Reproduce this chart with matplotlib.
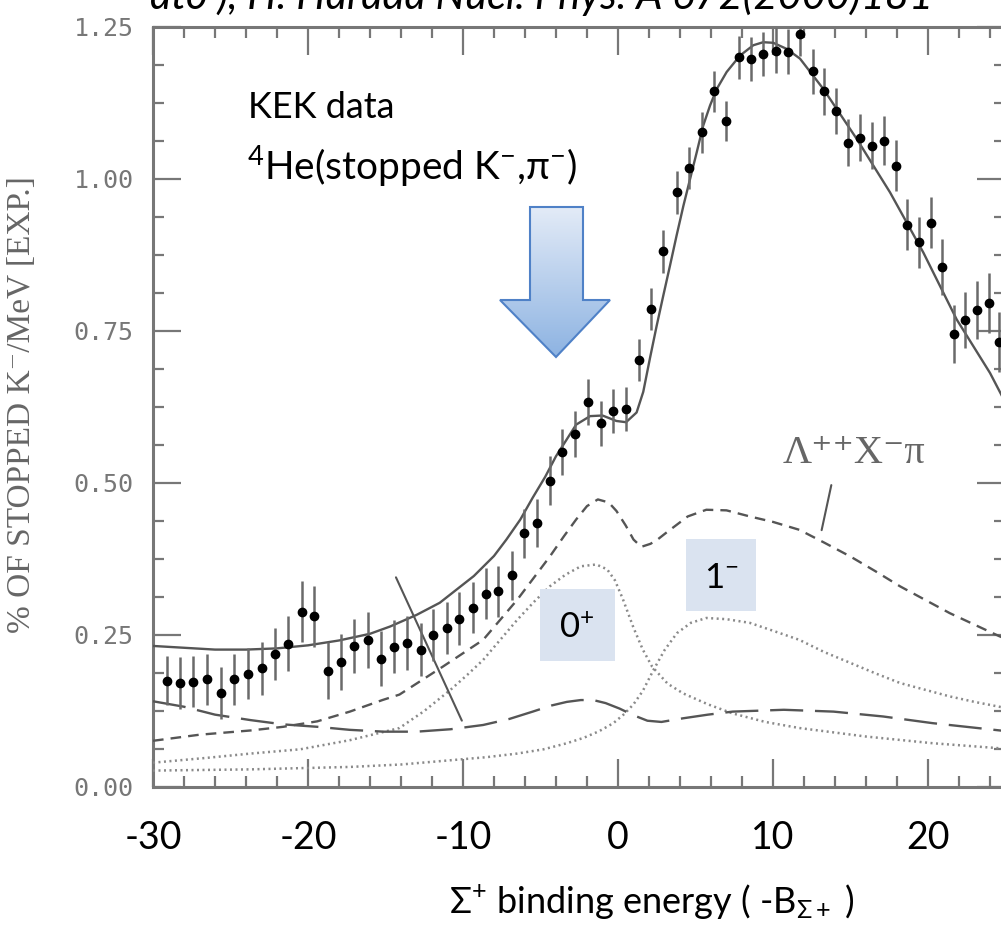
import numpy as np
import matplotlib.pyplot as plt
from matplotlib.patches import Polygon, Rectangle
from matplotlib.ticker import MultipleLocator

plt.rcParams['mathtext.fontset'] = 'custom'
plt.rcParams['mathtext.rm'] = 'Lato'
plt.rcParams['mathtext.it'] = 'Lato:italic'
plt.rcParams['mathtext.bf'] = 'Lato:bold'
plt.rcParams['mathtext.fallback'] = 'stixsans'

# KEK data, 4He(stopped K-, pi-)
data_x = [-29.12, -28.26, -27.40, -26.50, -25.63, -24.75, -23.88, -22.98, -22.13, -21.31,
          -20.41, -19.59, -18.69, -17.87, -17.01, -16.15, -15.29, -14.43, -13.59, -12.73,
          -11.92, -11.05, -10.24, -9.37, -8.52, -7.76, -6.86, -6.05, -5.25, -4.39,
          -3.59, -2.77, -1.92, -1.12, -0.30, 0.52, 1.35, 2.13, 2.92, 3.79,
          4.58, 5.40, 6.19, 6.97, 7.81, 8.58, 9.37, 10.17, 10.99, 11.77,
          12.56, 13.31, 14.06, 14.84, 15.61, 16.37, 17.16, 17.94, 18.66, 19.42,
          20.19, 20.92, 21.68, 22.39, 23.16, 23.92, 24.60]
data_y = [0.175, 0.171, 0.173, 0.177, 0.155, 0.177, 0.186, 0.195, 0.219, 0.236,
          0.288, 0.281, 0.191, 0.206, 0.232, 0.242, 0.211, 0.231, 0.237, 0.226,
          0.250, 0.261, 0.277, 0.295, 0.318, 0.322, 0.348, 0.417, 0.434, 0.504,
          0.551, 0.581, 0.633, 0.598, 0.618, 0.622, 0.702, 0.786, 0.881, 0.978,
          1.018, 1.077, 1.144, 1.096, 1.200, 1.197, 1.206, 1.211, 1.209, 1.239,
          1.177, 1.144, 1.112, 1.060, 1.068, 1.055, 1.063, 1.022, 0.925, 0.896,
          0.928, 0.855, 0.745, 0.768, 0.785, 0.796, 0.732]
data_err = [0.040, 0.042, 0.042, 0.042, 0.043, 0.042, 0.042, 0.043, 0.043, 0.046,
            0.050, 0.050, 0.047, 0.046, 0.045, 0.046, 0.045, 0.044, 0.044, 0.044,
            0.043, 0.043, 0.043, 0.042, 0.042, 0.042, 0.040, 0.040, 0.040, 0.040,
            0.038, 0.038, 0.038, 0.037, 0.036, 0.036, 0.035, 0.035, 0.035, 0.035,
            0.034, 0.034, 0.033, 0.033, 0.036, 0.036, 0.036, 0.037, 0.037, 0.037,
            0.037, 0.038, 0.038, 0.038, 0.039, 0.039, 0.040, 0.042, 0.042, 0.042,
            0.042, 0.046, 0.047, 0.046, 0.048, 0.049, 0.050]

# total spectrum (solid)
total_x = [-30, -28, -26, -24, -22, -20, -18, -16, -14.7, -13, -11.5, -10, -9.3, -8, -7.2,
           -6.3, -5.5, -4.7, -4.0, -3.3, -2.7, -1.8, -1.0, -0.1, 0.52, 1.2, 1.63, 2.06,
           2.49, 2.92, 3.35, 3.78, 4.22, 4.65, 5.08, 5.5, 5.94, 6.37, 7.01, 7.87, 8.73,
           9.37, 10.02, 10.88, 11.74, 13.25, 15.4, 17.55, 19.7, 21.85, 24.0, 25.0]
total_y = [0.232, 0.229, 0.226, 0.226, 0.228, 0.233, 0.241, 0.252, 0.264, 0.283, 0.303,
           0.333, 0.347, 0.380, 0.407, 0.440, 0.476, 0.510, 0.544, 0.572, 0.596, 0.610,
           0.611, 0.602, 0.600, 0.616, 0.650, 0.705, 0.758, 0.808, 0.857, 0.907, 0.956,
           1.000, 1.044, 1.088, 1.121, 1.148, 1.176, 1.203, 1.220, 1.225, 1.224, 1.214,
           1.198, 1.148, 1.066, 0.978, 0.879, 0.769, 0.681, 0.632]

# Lambda++ X- pi (short dashes)
lam_x = [-30, -27, -23.7, -21.6, -19.4, -17.3, -15.2, -14.1, -11.3, -8.7, -6.5, -4.4,
         -3.5, -2.7, -2.0, -1.3, -0.6, -0.1, 0.5, 1.0, 1.5, 2.1, 2.6, 3.1, 4.5, 5.7,
         7.0, 8.5, 10.0, 11.7, 13.3, 15.0, 16.6, 18.2, 19.8, 21.4, 23.0, 24.6, 25.0]
lam_y = [0.076, 0.086, 0.093, 0.099, 0.108, 0.124, 0.143, 0.152, 0.198, 0.242, 0.308,
         0.379, 0.412, 0.440, 0.462, 0.473, 0.468, 0.454, 0.430, 0.407, 0.395, 0.400,
         0.408, 0.418, 0.445, 0.456, 0.455, 0.445, 0.436, 0.423, 0.402, 0.379, 0.355,
         0.330, 0.308, 0.286, 0.267, 0.248, 0.244]

# 0+ state (dotted)
s0_x = [-30, -26.5, -23.7, -20.5, -17.3, -14.1, -12.5, -10.8, -9.7, -8.7, -7.6, -6.5,
        -5.4, -4.4, -3.4, -2.4, -1.4, -0.7, -0.2, 0.3, 1.0, 1.6, 2.2, 3.2, 4.2, 5.8,
        7.4, 9.5, 11.7, 16.0, 20.3, 25.0]
s0_y = [0.040, 0.048, 0.055, 0.062, 0.077, 0.097, 0.125, 0.160, 0.185, 0.209, 0.242,
        0.275, 0.305, 0.330, 0.349, 0.363, 0.366, 0.358, 0.340, 0.310, 0.262, 0.226,
        0.198, 0.170, 0.154, 0.136, 0.121, 0.107, 0.097, 0.083, 0.072, 0.063]

# 1- state (dotted)
s1_x = [-30, -23.7, -17.3, -14, -10.8, -8.5, -6.5, -4.8, -3.3, -2.2, -1.2, -0.3, 0.4,
        1.0, 1.6, 2.3, 3.0, 3.8, 4.7, 5.7, 7.0, 8.5, 10.0, 11.7, 13.3, 15.0, 16.6, 18.2,
        19.8, 21.4, 23.0, 25.0]
s1_y = [0.027, 0.029, 0.033, 0.037, 0.044, 0.049, 0.055, 0.062, 0.072, 0.081, 0.092,
        0.105, 0.120, 0.136, 0.158, 0.193, 0.225, 0.253, 0.270, 0.278, 0.276, 0.270,
        0.257, 0.242, 0.222, 0.204, 0.187, 0.171, 0.160, 0.149, 0.140, 0.130]

# long dashes
bg_x = [-30, -28, -26, -23.7, -21.6, -19.4, -17.3, -15.1, -13, -10.8, -8.7, -7, -5.5,
        -4.3, -3.3, -2.4, -1.6, -0.8, 0.1, 1.0, 1.9, 2.8, 4.2, 5.8, 7.4, 10.7, 13.9,
        17.1, 20.3, 25.0]
bg_y = [0.141, 0.132, 0.119, 0.110, 0.103, 0.099, 0.094, 0.091, 0.091, 0.095, 0.102,
        0.112, 0.124, 0.134, 0.140, 0.143, 0.143, 0.138, 0.129, 0.118, 0.109, 0.107,
        0.113, 0.119, 0.124, 0.127, 0.124, 0.116, 0.105, 0.092]

xtick_vals = [-30, -20, -10, 0, 10, 20]
ytick_vals = [0.00, 0.25, 0.50, 0.75, 1.00, 1.25]

W, H = 1001, 941
fig = plt.figure(figsize=(W / 100, H / 100), dpi=100)
ax = fig.add_axes([153 / W, 1 - 787 / H, 852.5 / W, 760 / H])

ax.plot(total_x, total_y, color='#555555', lw=1.7, zorder=3)
ax.plot(lam_x, lam_y, color='#555555', lw=1.7, ls=(0, (4.5, 3)), zorder=3)
ax.plot(s0_x, s0_y, color='#8a8a8a', lw=1.8, ls=(0, (0.8, 1.4)), zorder=3)
ax.plot(s1_x, s1_y, color='#8a8a8a', lw=1.8, ls=(0, (0.8, 1.4)), zorder=3)
ax.plot(bg_x, bg_y, color='#555555', lw=1.7, ls=(0, (14, 5)), zorder=3)
ax.errorbar(data_x, data_y, yerr=data_err, fmt='o', color='black', ms=6,
            ecolor='#6a6a6a', elinewidth=1.8, capsize=0, zorder=4)

# pointer lines of the original figure
ax.annotate('', xy=(-10.0, 0.105), xytext=(-14.4, 0.349),
            arrowprops=dict(arrowstyle='-', color='#555555', lw=1.5))
ax.annotate('', xy=(13.1, 0.418), xytext=(13.8, 0.501),
            arrowprops=dict(arrowstyle='-', color='#555555', lw=1.5))
ax.text(15.2, 0.548, 'Λ⁺⁺X⁻π', family=['Liberation Serif', 'DejaVu Serif'],
        fontsize=29, color='#666666', ha='center', va='center')

ax.set_xlim(-30, 25)
ax.set_ylim(0, 1.25)
ax.set_xticks(xtick_vals)
ax.set_xticklabels([str(v) for v in xtick_vals], family='Lato', fontsize=27, color='black')
ax.set_yticks(ytick_vals)
ax.set_yticklabels([f'{v:.2f}' for v in ytick_vals], family='DejaVu Sans Mono',
                   fontsize=18, color='#777777')
ax.xaxis.set_minor_locator(MultipleLocator(2))
ax.yaxis.set_minor_locator(MultipleLocator(0.0625))
ax.tick_params(which='both', direction='in', top=True, right=True, color='#777777', width=1.6)
ax.tick_params(which='major', length=20)
ax.tick_params(which='minor', length=8)
ax.tick_params(axis='x', pad=24)
ax.tick_params(axis='y', pad=14)
for sp in ax.spines.values():
    sp.set_color('#777777')
    sp.set_linewidth(2.2)

# overlay in pixel coordinates for the annotations pasted on the scan
ov = fig.add_axes([0, 0, 1, 1], zorder=10)
ov.set_xlim(0, W)
ov.set_ylim(H, 0)
ov.axis('off')
ov.patch.set_alpha(0)

arrow_pts = [(530, 207), (583, 207), (583, 300), (610, 300), (556, 357),
             (500, 300), (530, 300)]
arrow = Polygon(arrow_pts, closed=True, facecolor='none', edgecolor='#4f81c7', lw=1.5,
                zorder=3)
ov.add_patch(arrow)
grad = np.linspace(0, 1, 256).reshape(-1, 1)
cmap = plt.matplotlib.colors.LinearSegmentedColormap.from_list('g', ['#e3ebf7', '#8db3e2'])
img = ov.imshow(grad, cmap=cmap, extent=(500, 610, 357, 207), aspect='auto', zorder=2)
img.set_clip_path(arrow)

box_color = '#dae3f0'
ov.add_patch(Rectangle((540, 589), 75, 72, facecolor=box_color, edgecolor='none'))
ov.add_patch(Rectangle((686, 539), 70, 72, facecolor=box_color, edgecolor='none'))
ov.text(577, 628, r'0$^{+}$', family='Lato', fontsize=25, ha='center', va='center')
ov.text(721, 578, r'1$^{-}$', family='Lato', fontsize=25, ha='center', va='center')

txt_font = ['Lato', 'DejaVu Sans']
ov.text(248, 118, 'KEK data', family=txt_font, fontsize=26, ha='left', va='baseline')
ov.text(247, 180, r'$^{4}$He(stopped K$^{-}$,π$^{-}$)', family=txt_font, fontsize=28,
        ha='left', va='baseline')
ov.text(150, 9, 'ato ), H. Harada Nucl. Phys. A 672(2000)181', family='Lato',
        style='italic', fontsize=30, ha='left', va='baseline')

ov.text(652, 913, r'$\Sigma^{+}$ binding energy ( -B$_{\Sigma+}$ )', family=txt_font,
        fontsize=26, ha='center', va='baseline')
ov.text(22, 405, '% OF STOPPED K⁻/MeV [EXP.]', family=['Liberation Serif', 'DejaVu Serif'],
        fontsize=24, color='#666666', rotation=90, ha='center', va='center')

fig.savefig('out.png', dpi=100)
